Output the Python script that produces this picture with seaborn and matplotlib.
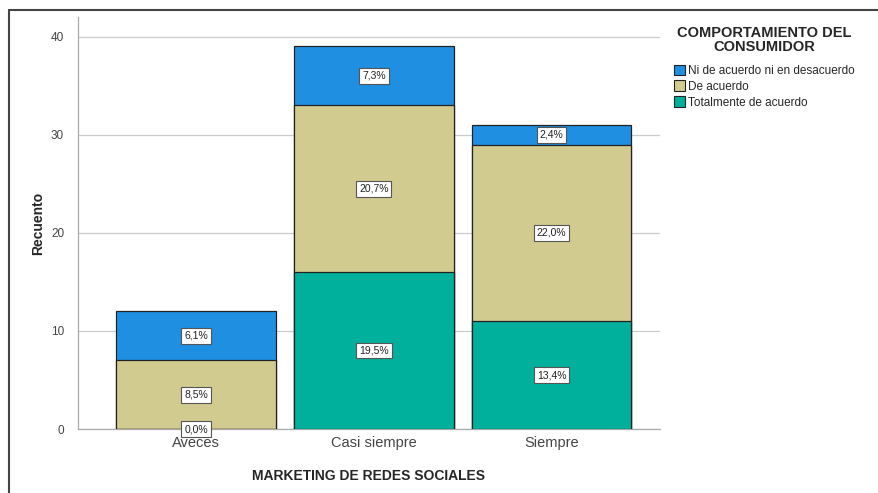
import pandas as pd
import matplotlib.pyplot as plt
import seaborn as sns
from matplotlib.patches import Patch
from matplotlib.lines import Line2D

# datos
categorias = ['Aveces', 'Casi siempre', 'Siempre']
totalmente = [0, 16, 11]
de_acuerdo = [7, 17, 18]
ni_ni = [5, 6, 2]
series = ['Ni de acuerdo ni en desacuerdo', 'De acuerdo', 'Totalmente de acuerdo']
colores = ['#1E8FE1', '#D1CB8F', '#00B09C']

total_n = sum(totalmente) + sum(de_acuerdo) + sum(ni_ni)

df = pd.DataFrame({'cat': categorias, 'tot': totalmente, 'de': de_acuerdo, 'ni': ni_ni})
df['c1'] = df['tot']
df['c2'] = df['tot'] + df['de']
df['c3'] = df['c2'] + df['ni']

sns.set_style('white')
plt.rcParams['font.family'] = ['Liberation Sans', 'DejaVu Sans']

fig = plt.figure(figsize=(8.79, 4.93), dpi=100)
ax = fig.add_axes([0.0887, 0.1298, 0.662, 0.8357])

# barras apiladas: se dibuja del acumulado mayor al menor
for col, color in zip(['c3', 'c2', 'c1'], colores):
    sns.barplot(data=df, x='cat', y=col, color=color, saturation=1, width=0.9,
                edgecolor='#222222', linewidth=0.9, ax=ax, zorder=3)

# etiquetas de porcentaje
for i in range(len(categorias)):
    segs = [(0, totalmente[i]), (totalmente[i], de_acuerdo[i]),
            (totalmente[i] + de_acuerdo[i], ni_ni[i])]
    for base, h in segs:
        pct = f"{h / total_n * 100:.1f}%".replace('.', ',')
        ax.text(i, base + h / 2, pct, ha='center', va='center', fontsize=7.5,
                color='#222222', zorder=5,
                bbox=dict(boxstyle='square,pad=0.28', fc='white', ec='#555555', lw=0.8))

ax.set_ylim(0, 42)
ax.set_xlim(-0.665, 2.61)
ax.set_yticks([0, 10, 20, 30, 40])
ax.yaxis.grid(True, color='#cccccc', linewidth=0.9, zorder=0)
ax.set_axisbelow(True)
for s in ['top', 'right']:
    ax.spines[s].set_visible(False)
for s in ['left', 'bottom']:
    ax.spines[s].set_color('#aaaaaa')
    ax.spines[s].set_linewidth(0.9)
ax.tick_params(axis='y', length=7, color='#aaaaaa', labelsize=8.5, labelcolor='#444444', pad=3)
ax.tick_params(axis='x', length=0, labelsize=10.5, labelcolor='#444444', pad=5)
ax.set_ylabel('Recuento', fontsize=10, fontweight='bold', labelpad=4)
ax.set_xlabel('MARKETING DE REDES SOCIALES', fontsize=10, fontweight='bold', labelpad=14)

handles = [Patch(facecolor=c, edgecolor='#222222', linewidth=0.8) for c in colores]
leg = fig.legend(handles, series, title='COMPORTAMIENTO DEL\nCONSUMIDOR',
                 loc='upper left', bbox_to_anchor=(0.757, 0.965), frameon=False,
                 fontsize=8.5, handlelength=1.0, handleheight=1.0, handletextpad=0.2,
                 labelspacing=0.3, borderpad=0.2)
leg.get_title().set_fontweight('bold')
leg.get_title().set_fontsize(10.5)
leg.get_title().set_multialignment('center')
leg.get_title().set_linespacing(1.0)
leg._legend_box.align = 'center'
leg._legend_box.sep = 8

# marco exterior
fig.add_artist(Line2D([0.0108, 0.0108], [0, 0.98], color='#444444', lw=1.5))
fig.add_artist(Line2D([0.0108, 1.0], [0.98, 0.98], color='#444444', lw=1.5))

plt.savefig('out.png', dpi=100)
